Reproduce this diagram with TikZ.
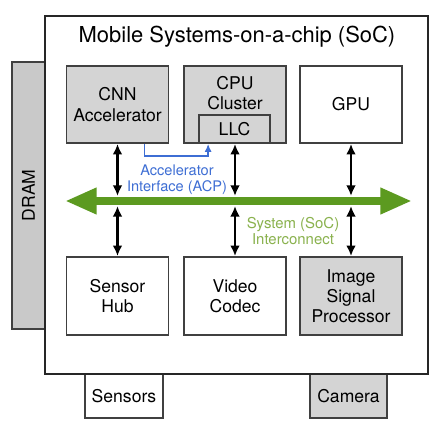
\documentclass[tikz,border=0pt]{standalone}
\usepackage{fontspec}
\setmainfont{TeX Gyre Heros}
\usepackage{tikz}
\usetikzlibrary{arrows.meta,calc}
\definecolor{boxgray}{RGB}{212,212,212}
\definecolor{busgreen}{RGB}{92,154,32}
\definecolor{labgreen}{RGB}{138,178,78}
\definecolor{acpblue}{RGB}{62,110,212}

\begin{document}
\begin{tikzpicture}[x=0.02cm,y=-0.02cm,
        unit/.style={draw=black!75, line width=1pt, align=center, font=\fontsize{10}{11.5}\selectfont, minimum width=2.04cm, minimum height=1.54cm, inner sep=1pt},
        io/.style={draw=black!75, line width=1pt, font=\fontsize{10}{11.5}\selectfont, minimum width=1.56cm, minimum height=0.88cm},
        link/.style={line width=1.3pt, {Latex[length=6pt,width=5.5pt]}-{Latex[length=6pt,width=5.5pt]}}]
        \useasboundingbox (0,0) rectangle (437,435);
        \node[draw=black!75, line width=1pt, fill=boxgray!95!black, rotate=90, minimum width=5.34cm, minimum height=0.66cm, font=\fontsize{10}{11.5}\selectfont] (dram) at (28.5,195.5) {DRAM};
        \node[io] (sensors) at (124,396) {Sensors}; \node[io, fill=boxgray, minimum width=1.54cm] (camera) at (348.5,396) {Camera};
        \node[draw=black!85, line width=1.4pt, fill=white, minimum width=7.66cm, minimum height=7.16cm] (soc) at (236.5,195) {};
        \node[font=\fontsize{12.5}{14}\selectfont] (title) at (237,37) {Mobile Systems-on-a-chip (SoC)};

        \node[unit, fill=boxgray] (cnn) at (117.5,104.5) {CNN\\Accelerator};
        \node[unit, fill=boxgray, label={[anchor=north, align=center, font=\fontsize{10}{11.5}\selectfont, yshift=-3pt]north:CPU\\Cluster}] (cpu) at (235,104.5) {};
        \node[draw=black!75, line width=1pt, fill=boxgray, minimum width=1.42cm, minimum height=0.56cm, font=\fontsize{10}{11.5}\selectfont] (llc) at (234.5,129) {LLC};
        \node[unit] (gpu) at (351,104.5) {GPU};
        \node[unit, minimum height=1.56cm] (hub) at (117.5,296) {Sensor\\Hub}; \node[unit, minimum height=1.56cm] (codec) at (235,296) {Video\\Codec};
        \node[unit, minimum height=1.56cm, fill=boxgray] (isp) at (351,296) {Image\\Signal\\Processor};

        \coordinate (busW) at (65,201); \coordinate (busE) at (412,201);
        \draw[busgreen, line width=5pt, {Triangle[length=18pt,width=14pt]}-{Triangle[length=18pt,width=14pt]}] (busW) -- (busE);
        \foreach \u/\d in {cnn/hub,cpu/codec,gpu/isp} {
            \draw[link] (\u.south) -- ($(\u.south |- busW)+(0,-5)$);
            \draw[link] ($(\d.north |- busW)+(0,5)$) -- (\d.north);
        }
        \draw[acpblue, line width=0.9pt, -{Latex[length=4.5pt,width=4pt]}] ($(cnn.south east)+(-25,0)$) -- ++(0,12) -| ($(llc.south west)+(10,0)$);
        \node[acpblue, align=center, font=\fontsize{8.3}{9.2}\selectfont] (acp) at (177,180) {Accelerator\\Interface (ACP)};
        \node[labgreen, align=center, font=\fontsize{8.5}{9.6}\selectfont] (sysic) at (293,231) {System (SoC)\\Interconnect};
    \end{tikzpicture}
\end{document}
